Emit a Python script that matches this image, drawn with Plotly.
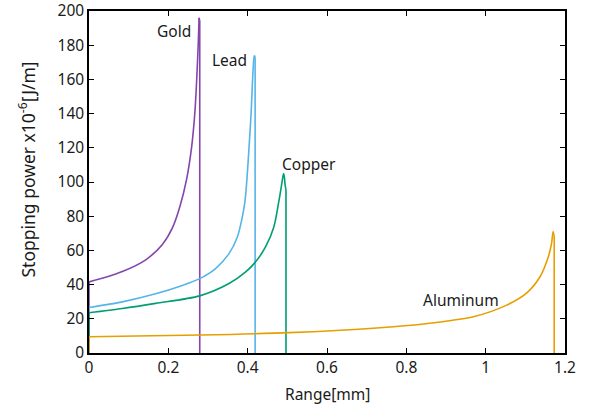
import plotly.graph_objects as go

# Range [mm] and stopping power [x1e-6 J/m]
gold_x = [0, 0.042, 0.084, 0.143, 0.185, 0.21, 0.229, 0.246, 0.259, 0.267, 0.2715, 0.2756, 0.2775]
gold_y = [41.6, 44.3, 47.6, 54.5, 63.5, 73, 85.5, 101.5, 121, 141, 160, 182, 196]
gold_end = 0.2792

lead_x = [0, 0.084, 0.168, 0.235, 0.279, 0.319, 0.353, 0.374, 0.3865, 0.3935, 0.3985, 0.404, 0.409, 0.4126, 0.4155, 0.4172]
lead_y = [26.6, 29.9, 34.6, 39.5, 43.5, 49.4, 58.1, 67.8, 79.5, 89.2, 102.8, 122.3, 141.7, 161.1, 172, 174]
lead_end = 0.4188

copper_x = [0, 0.084, 0.168, 0.279, 0.353, 0.395, 0.42, 0.445, 0.466, 0.479, 0.486, 0.4905, 0.4925, 0.4945, 0.4962]
copper_y = [23.5, 26, 29, 33.4, 40.6, 47.4, 53.3, 62, 73.7, 89.2, 99, 105, 103, 98, 96]
copper_end = 0.4966

aluminum_x = [0, 0.28, 0.504, 0.734, 0.843, 0.969, 1.053, 1.103, 1.137, 1.158, 1.166, 1.170, 1.1718]
aluminum_y = [9.5, 10.5, 11.9, 14.8, 17, 21.2, 28, 35, 44.6, 56.3, 64, 71, 69]
aluminum_end = 1.1728

series = [
    ("Gold", gold_x, gold_y, gold_end, "#8446AD"),
    ("Lead", lead_x, lead_y, lead_end, "#56B4E9"),
    ("Copper", copper_x, copper_y, copper_end, "#009E73"),
    ("Aluminum", aluminum_x, aluminum_y, aluminum_end, "#E69F00"),
]

x_ticks = [0, 0.2, 0.4, 0.6, 0.8, 1, 1.2]
x_tick_labels = ["0", "0.2", "0.4", "0.6", "0.8", "1", "1.2"]
y_ticks = [0, 20, 40, 60, 80, 100, 120, 140, 160, 180, 200]

fig = go.Figure()
for name, xs, ys, xe, col in series:
    # rising part (smooth)
    fig.add_trace(go.Scatter(x=xs, y=ys, mode="lines", name=name,
                             line=dict(color=col, width=1.6, shape="spline", smoothing=0.8)))
    # start at zero and vertical fall-off at the end of range
    fig.add_trace(go.Scatter(x=[xs[0], xs[0], None, xs[-1], xe, xe],
                             y=[0, ys[0], None, ys[-1], ys[-1] * 0.99, 0],
                             mode="lines", line=dict(color=col, width=1.6),
                             showlegend=False, hoverinfo="skip"))

font = dict(family="Noto Sans", size=15.5, color="#1a1a1a")
labels = [("Gold", 0.263, 188.3, "right"), ("Lead", 0.354, 171.3, "center"),
          ("Copper", 0.555, 110.5, "center"), ("Aluminum", 0.938, 31, "center")]
for txt, ax, ay, al in labels:
    fig.add_annotation(x=ax, y=ay, text=txt, showarrow=False, xanchor=al,
                       yanchor="middle", font=font)

# axis titles
fig.add_annotation(xref="paper", yref="paper", x=0, y=0.5365, xshift=-62,
                   text="Stopping power x10<sup>-6</sup>[J/m]",
                   textangle=-90, showarrow=False, xanchor="center", yanchor="middle",
                   font=dict(family="Noto Sans", size=17.5, color="#1a1a1a"))
fig.add_annotation(xref="paper", yref="paper", x=0.5, y=0, yshift=-41, text="Range[mm]",
                   showarrow=False, xanchor="center", yanchor="middle", font=font)

axis_common = dict(showline=True, linecolor="black", linewidth=1.5, mirror="ticks",
                   ticks="inside", ticklen=5, tickwidth=1, tickcolor="black",
                   showgrid=False, zeroline=False, tickfont=font, automargin=False,
                   ticklabeloverflow="allow")
fig.update_xaxes(range=[0, 1.2], tickvals=x_ticks, ticktext=x_tick_labels, **axis_common)
fig.update_yaxes(range=[0, 200], tickvals=y_ticks, **axis_common)
fig.update_layout(width=592, height=409, margin=dict(l=89, r=27, t=11, b=56),
                  plot_bgcolor="white", paper_bgcolor="white", showlegend=False,
                  font=font)
fig.write_html("out.html")
